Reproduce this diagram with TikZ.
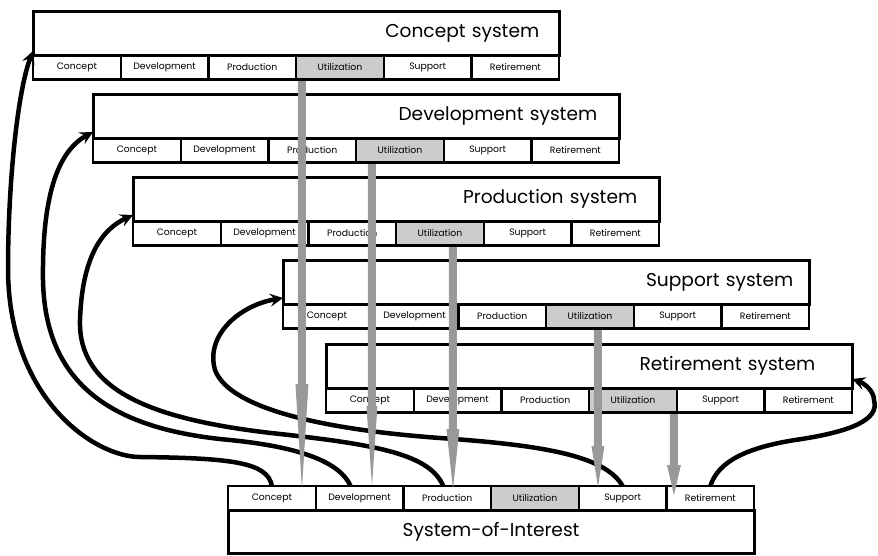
\documentclass[tikz,border=0pt]{standalone}
\usepackage{fontspec}
\setmainfont{Poppins}
\usetikzlibrary{arrows.meta,positioning}
\definecolor{utilgray}{gray}{.8}
\definecolor{arrowgray}{gray}{.6}

% one row of life-cycle phases: prefix, left x, top y
\newcommand{\phasestrip}[3]{%
	\foreach \phname/\cellfill [count=\i] in {Concept/white,Development/white,Production/white,Utilization/utilgray,Support/white,Retirement/white}
		\node[phase,fill=\cellfill,anchor=north west] (#1-\i) at ({#2+(\i-1)*87.7},#3) {\phname};
}
% broad grey arrow: start, tip, head length, half head width
\newcommand{\utilarrow}[4]{%
	\fill[arrowgray] ([xshift=-4pt]#1) -- ([xshift=-4pt,yshift=#3]#2) -- ([xshift=-#4,yshift=#3]#2)
		-- (#2) -- ([xshift=#4,yshift=#3]#2) -- ([xshift=4pt,yshift=#3]#2) -- ([xshift=4pt]#1) -- cycle;
}

\begin{document}
\begin{tikzpicture}[% pixel-like units, y grows downwards
			x=1pt,y=-1pt,
			phase/.style={
				rectangle,draw,line width=2.4pt,
				outer sep=0pt,inner sep=0pt,
				minimum width=87.7pt,minimum height=24.5pt,
				font=\fontsize{9.3}{10}\selectfont
			},
			systitle/.style={
				rectangle,draw,line width=3pt,fill=white,
				outer sep=0pt,
				minimum width=526.2pt,minimum height=44pt,
				font=\fontsize{18.6}{20}\selectfont
			},
			feedback/.style={line width=4.5pt,-{Stealth[length=13pt,width=13pt,inset=5pt]}}
		]
		\useasboundingbox (0,0) rectangle (878,555);

		% enabling systems
		\phasestrip{cs}{33}{55}
		\node[systitle,anchor=south west,text width=486.2pt,inner xsep=20pt,align=right](cs) at (cs-1.north west){Concept system};
		\phasestrip{dv}{93}{138}
		\node[systitle,anchor=south west,text width=482.2pt,inner xsep=22pt,align=right](dv) at (dv-1.north west){Development system};
		\phasestrip{pr}{133}{221}
		\node[systitle,anchor=south west,text width=482.2pt,inner xsep=22pt,align=right](pr) at (pr-1.north west){Production system};
		\phasestrip{su}{283}{304}
		\node[systitle,anchor=south west,text width=494.2pt,inner xsep=16pt,align=right](su) at (su-1.north west){Support system};
		\phasestrip{rt}{326}{388}
		\node[systitle,anchor=south west,text width=452.2pt,inner xsep=37pt,align=right](rt) at (rt-1.north west){Retirement system};

		% system of interest
		\phasestrip{soi}{228}{486}
		\node[systitle,anchor=north west,minimum height=43pt,align=center](soi) at (soi-1.south west){System-of-Interest};

		% each phase of the system of interest calls on an enabling system
		\draw[feedback] (soi-1.north) .. controls (268,462) and (230,458) .. (140,457)
			.. controls (95,457) and (9,400) .. (8,270)
			.. controls (8,180) and (18,90) .. ([yshift=4pt]cs.south west);
		\draw[feedback] ([xshift=-9pt]soi-2.north) .. controls (340,462) and (300,447) .. (230,440)
			.. controls (120,430) and (45,390) .. (43,280)
			.. controls (42,190) and (60,150) .. ([yshift=6pt]dv.south west);
		\draw[feedback] ([xshift=-4pt]soi-3.north) .. controls (430,455) and (380,445) .. (280,434)
			.. controls (150,420) and (78,390) .. (80,320)
			.. controls (82,260) and (100,230) .. ([yshift=6pt]pr.south west);
		\draw[feedback] (soi-5.north) .. controls (605,455) and (540,445) .. (440,438)
			.. controls (330,430) and (230,410) .. (215,370)
			.. controls (205,335) and (240,305) .. ([yshift=6pt]su.south west);
		\draw[feedback] (soi-6.north) .. controls (718,462) and (745,448) .. (795,440)
			.. controls (850,432) and (880,420) .. (874,400)
			.. controls (874,392) and (866,384) .. ([yshift=9pt]rt.south east);

		% utilization of each enabling system feeds one phase
		\coordinate (ua1) at ([xshift=-38pt,yshift=-1.5pt]cs-4.south);
		\coordinate (ua2) at ([xshift=-28pt,yshift=-1.5pt]dv-4.south);
		\coordinate (ua3) at ([xshift=13pt,yshift=-1.5pt]pr-4.south);
		\coordinate (ua4) at ([xshift=8pt,yshift=-1.5pt]su-4.south);
		\coordinate (ua5) at ([xshift=41pt,yshift=-1.5pt]rt-4.south);
		\coordinate (ut1) at ([yshift=-3pt]ua1 |- soi-1.north);
		\coordinate (ut2) at (ua2 |- soi-2.north);
		\coordinate (ut3) at ([yshift=-3pt]ua3 |- soi-3.north);
		\coordinate (ut4) at ([yshift=-1pt]ua4 |- soi-5.north);
		\coordinate (ut5) at ([yshift=-9pt]ua5 |- soi-6.north);
		\utilarrow{ua1}{ut1}{105pt}{6.5pt}
		\utilarrow{ua2}{ut2}{80pt}{5.5pt}
		\utilarrow{ua3}{ut3}{60pt}{6.5pt}
		\utilarrow{ua4}{ut4}{41pt}{6.5pt}
		\utilarrow{ua5}{ut5}{30pt}{7pt}
	\end{tikzpicture}
\end{document}
